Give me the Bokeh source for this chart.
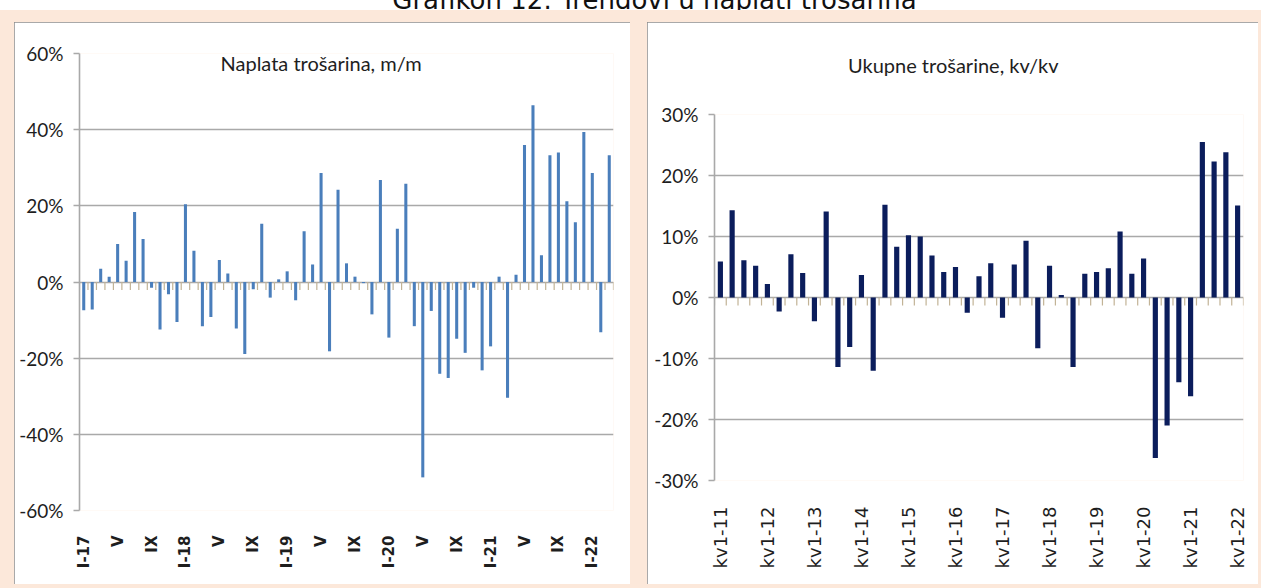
from bokeh.plotting import figure
from bokeh.models import Range1d, FixedTicker, Label, Div, Spacer
from bokeh.layouts import row, column
from bokeh.embed import file_html
from bokeh.resources import INLINE

# ---------------- data ----------------
page_title = "Grafikon 12: Trendovi u naplati trošarina"

left_title = "Naplata trošarina, m/m"
# monthly collection of excise duties, m/m change in %, I-2017 .. III-2022
left_values = [
    -7.4, -7.2, 3.5, 1.4, 10.0, 5.6, 18.4, 11.3, -1.5, -12.5, -3.2, -10.5,
    20.4, 8.2, -11.6, -9.2, 5.8, 2.2, -12.2, -18.9, -1.9, 15.3, -4.1, 0.7,
    2.8, -4.8, 13.3, 4.6, 28.6, -18.2, 24.2, 4.9, 1.4, -0.3, -8.5, 26.8,
    -14.6, 14.0, 25.8, -11.6, -51.3, -7.6, -24.1, -25.2, -14.9, -18.6, -1.5, -23.2,
    -16.9, 1.4, -30.4, 1.9, 36.0, 46.4, 7.0, 33.3, 34.0, 21.2, 15.7, 39.4,
    28.6, -13.2, 33.3,
]
left_tick_labels = ["I-17", "V", "IX", "I-18", "V", "IX", "I-19", "V", "IX",
                    "I-20", "V", "IX", "I-21", "V", "IX", "I-22"]
left_y_ticks = [-60, -40, -20, 0, 20, 40, 60]

right_title = "Ukupne trošarine, kv/kv"
# total excise duties, quarter-on-quarter change in %, Q1-2011 .. Q1-2022
right_values = [
    5.9, 14.3, 6.1, 5.2, 2.2, -2.3, 7.1, 4.0, -3.9, 14.1, -11.4, -8.1,
    3.7, -12.0, 15.2, 8.3, 10.2, 10.0, 6.9, 4.2, 5.0, -2.5, 3.5, 5.6,
    -3.3, 5.4, 9.3, -8.3, 5.2, 0.4, -11.4, 3.9, 4.2, 4.8, 10.8, 3.9,
    6.4, -26.3, -21.0, -13.9, -16.2, 25.5, 22.3, 23.8, 15.1,
]
right_tick_labels = ["kv1-11", "kv1-12", "kv1-13", "kv1-14", "kv1-15", "kv1-16",
                     "kv1-17", "kv1-18", "kv1-19", "kv1-20", "kv1-21", "kv1-22"]
right_y_ticks = [-30, -20, -10, 0, 10, 20, 30]

# ---------------- style ----------------
PEACH = "#fce8da"
GRID = "#a9a9a9"
TICK0 = "#c2b396"
TXT = "#1e1e1e"
LBL = "Lato"


def make_panel(values, tick_labels, y_ticks, bar_color, bar_width,
               width, height, borders, label_bold, label_size,
               label_standoff, tick_len):
    n = len(values)
    idx = list(range(n))
    p = figure(width=width, height=height,
               x_range=Range1d(-0.5, n - 0.5),
               y_range=Range1d(y_ticks[0], y_ticks[-1]),
               output_backend="svg", toolbar_location=None,
               min_border_left=borders[0], min_border_right=borders[1],
               min_border_top=borders[2], min_border_bottom=borders[3],
               background_fill_color="white", border_fill_color="white",
               styles={"outline": "2px solid #8c8c8c", "outline-offset": "-2px"})
    p.outline_line_color = None
    p.xgrid.visible = False
    p.ygrid.ticker = FixedTicker(ticks=y_ticks)
    p.ygrid.grid_line_color = GRID
    p.ygrid.grid_line_width = 1.6

    # y axis
    p.yaxis.ticker = FixedTicker(ticks=y_ticks)
    p.yaxis.major_label_overrides = {t: f"{t}%" for t in y_ticks}
    p.yaxis.axis_line_color = GRID
    p.yaxis.axis_line_width = 1.6
    p.yaxis.major_tick_line_color = GRID
    p.yaxis.major_tick_line_width = 1.6
    p.yaxis.major_tick_out = 6
    p.yaxis.major_tick_in = 0
    p.yaxis.minor_tick_line_color = None
    p.yaxis.major_label_text_font = LBL
    p.yaxis.major_label_text_font_size = "19px"
    p.yaxis.major_label_text_color = TXT
    p.yaxis.major_label_standoff = 10

    # x axis (labels only, below the frame)
    step = 4
    tick_pos = [i * step for i in range(len(tick_labels))]
    p.xaxis.ticker = FixedTicker(ticks=tick_pos)
    p.xaxis.major_label_overrides = {t: lab for t, lab in zip(tick_pos, tick_labels)}
    p.xaxis.axis_line_color = None
    p.xaxis.major_tick_line_color = None
    p.xaxis.minor_tick_line_color = None
    p.xaxis.major_label_orientation = 1.5707963
    p.xaxis.major_label_text_font = "DejaVu Sans"
    p.xaxis.major_label_text_font_style = "bold" if label_bold else "normal"
    p.xaxis.major_label_text_font_size = label_size
    p.xaxis.major_label_text_color = TXT
    p.xaxis.major_label_standoff = label_standoff

    # category boundary ticks on the zero line
    bounds = [i + 0.5 for i in range(-1, n)]
    p.segment(x0=bounds, y0=[0] * len(bounds), x1=bounds, y1=[-tick_len] * len(bounds),
              line_color=TICK0, line_width=1.2)

    p.vbar(x=idx, top=values, bottom=0, width=bar_width,
           fill_color=bar_color, line_color=None)
    return p


left = make_panel(left_values, left_tick_labels, left_y_ticks,
                  "#4a7ebb", 0.36, 616, 562, (65, 17, 31, 74),
                  True, "15px", 19, 2.1)
left.add_layout(Label(x=28, y=57.5, text=left_title, text_font=LBL,
                      text_font_size="20px", text_color=TXT,
                      text_align="center", text_baseline="middle"))

right = make_panel(right_values, right_tick_labels, right_y_ticks,
                   "#0b1d5c", 0.44, 611, 562, (67, 15, 92, 104),
                   False, "18px", 20, 1.3)

# title of the right panel, placed over the panel's upper margin
right_title_div = Div(
    text=right_title, margin=0, width=230, height=24,
    styles={"position": "absolute", "left": "848px", "top": "53px",
            "font-family": "Lato", "font-size": "20px", "line-height": "24px",
            "color": TXT, "white-space": "nowrap", "z-index": "5"})

title_div = Div(
    text=('<div style="position:relative; top:-13px; width:1261px; text-align:center; '
          'font-family:\'DejaVu Sans\'; font-size:26px; line-height:26px; color:#111; '
          'white-space:nowrap; padding-left:48px; box-sizing:border-box;">'
          + page_title + '</div>'),
    width=1261, height=10, margin=0,
    styles={"overflow": "hidden", "background-color": "white"})

body = row(Spacer(width=14), column(left), Spacer(width=17), column(right),
           Spacer(width=3), spacing=0)

root = column(title_div, Spacer(height=12), body, Spacer(height=4), right_title_div,
              spacing=0,
              styles={"position": "absolute", "left": "0px", "top": "0px",
                      "background-color": PEACH})

open("out.html", "w").write(file_html(root, INLINE))
